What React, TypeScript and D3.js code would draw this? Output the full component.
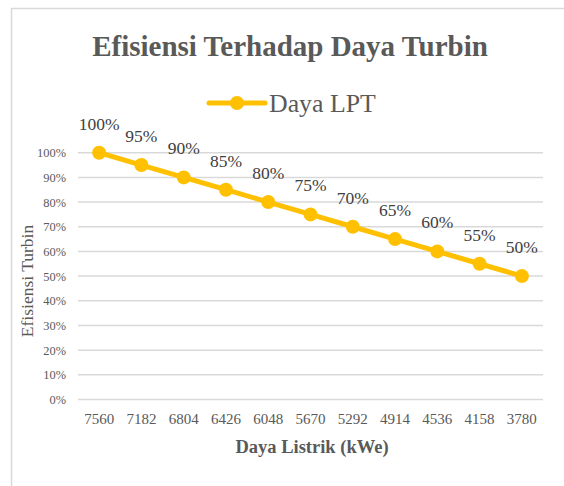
import * as d3 from 'd3';
import React, { useEffect, useRef } from 'react';

const categories = ['7560', '7182', '6804', '6426', '6048', '5670', '5292', '4914', '4536', '4158', '3780'];
const efficiency = [1.0, 0.95, 0.9, 0.85, 0.8, 0.75, 0.7, 0.65, 0.6, 0.55, 0.5];
const yTicks = [0, 0.1, 0.2, 0.3, 0.4, 0.5, 0.6, 0.7, 0.8, 0.9, 1.0];
const seriesName = 'Daya LPT';

const width = 564;
const height = 486;
const font = 'Liberation Serif';
const lineColor = '#FFC000';
const textColor = '#595959';

const App = () => {
  const svgRef = useRef(null);

  const renderSvg = () => {
    const svg = d3.select(svgRef.current);
    svg.selectAll('*').remove();

    // chart frame, runs off the right and bottom edges
    svg
      .append('rect')
      .attr('x', 11.5)
      .attr('y', 8.5)
      .attr('width', 700)
      .attr('height', 700)
      .attr('fill', '#fff')
      .attr('stroke', '#d9d9d9')
      .attr('stroke-width', 1.5);

    const xScale = d3.scalePoint().domain(categories).range([78, 543]).padding(0.5);
    const yScale = d3.scaleLinear().domain([0, 1]).range([399.5, 152.7]);

    // gridlines
    svg
      .append('g')
      .selectAll('line')
      .data(yTicks)
      .enter()
      .append('line')
      .attr('x1', 78)
      .attr('x2', 543)
      .attr('y1', (d) => yScale(d))
      .attr('y2', (d) => yScale(d))
      .attr('stroke', '#d9d9d9')
      .attr('stroke-width', 1.5);

    // y tick labels
    svg
      .append('g')
      .selectAll('text')
      .data(yTicks)
      .enter()
      .append('text')
      .attr('x', 66)
      .attr('y', (d) => yScale(d) + 4.5)
      .attr('text-anchor', 'end')
      .attr('font-family', font)
      .attr('font-size', 12.4)
      .attr('fill', textColor)
      .text((d) => Math.round(d * 100) + '%');

    // x tick labels
    svg
      .append('g')
      .selectAll('text')
      .data(categories)
      .enter()
      .append('text')
      .attr('x', (d) => xScale(d) as number)
      .attr('y', 424)
      .attr('text-anchor', 'middle')
      .attr('font-family', font)
      .attr('font-size', 15)
      .attr('fill', textColor)
      .text((d) => d);

    const line = d3
      .line<number>()
      .x((d, i) => xScale(categories[i]) as number)
      .y((d) => yScale(d));

    svg
      .append('path')
      .datum(efficiency)
      .attr('d', line)
      .attr('fill', 'none')
      .attr('stroke', lineColor)
      .attr('stroke-width', 5)
      .attr('stroke-linejoin', 'round');

    svg
      .append('g')
      .selectAll('circle')
      .data(efficiency)
      .enter()
      .append('circle')
      .attr('cx', (d, i) => xScale(categories[i]) as number)
      .attr('cy', (d) => yScale(d))
      .attr('r', 7)
      .attr('fill', lineColor);

    // data labels
    svg
      .append('g')
      .selectAll('text')
      .data(efficiency)
      .enter()
      .append('text')
      .attr('x', (d, i) => xScale(categories[i]) as number)
      .attr('y', (d) => yScale(d) - 23)
      .attr('text-anchor', 'middle')
      .attr('font-family', font)
      .attr('font-size', 17.5)
      .attr('fill', '#404040')
      .text((d) => Math.round(d * 100) + '%');

    // title
    svg
      .append('text')
      .attr('x', 290)
      .attr('y', 56)
      .attr('text-anchor', 'middle')
      .attr('font-family', font)
      .attr('font-size', 29)
      .attr('font-weight', 'bold')
      .attr('fill', textColor)
      .text('Efisiensi Terhadap Daya Turbin');

    // legend
    svg
      .append('line')
      .attr('x1', 209)
      .attr('x2', 265)
      .attr('y1', 103)
      .attr('y2', 103)
      .attr('stroke', lineColor)
      .attr('stroke-width', 5)
      .attr('stroke-linecap', 'round');
    svg
      .append('circle')
      .attr('cx', 237)
      .attr('cy', 103)
      .attr('r', 7)
      .attr('fill', lineColor);
    svg
      .append('text')
      .attr('x', 269)
      .attr('y', 112)
      .attr('font-family', font)
      .attr('font-size', 25.8)
      .attr('fill', textColor)
      .text(seriesName);

    // axis titles
    svg
      .append('text')
      .attr('x', 312)
      .attr('y', 453)
      .attr('text-anchor', 'middle')
      .attr('font-family', font)
      .attr('font-size', 18.5)
      .attr('font-weight', 'bold')
      .attr('fill', textColor)
      .text('Daya Listrik (kWe)');

    svg
      .append('text')
      .attr('transform', 'translate(33,281) rotate(-90)')
      .attr('text-anchor', 'middle')
      .attr('font-family', font)
      .attr('font-size', 17.5)
      .attr('fill', textColor)
      .text('Efisiensi Turbin');
  };

  useEffect(() => {
    renderSvg();
  }, []);

  return (
    <svg
      ref={svgRef}
      width={width}
      height={height}
      style={{ position: 'absolute', left: 0, top: 0, overflow: 'hidden' }}
    />
  );
};

export default App;
